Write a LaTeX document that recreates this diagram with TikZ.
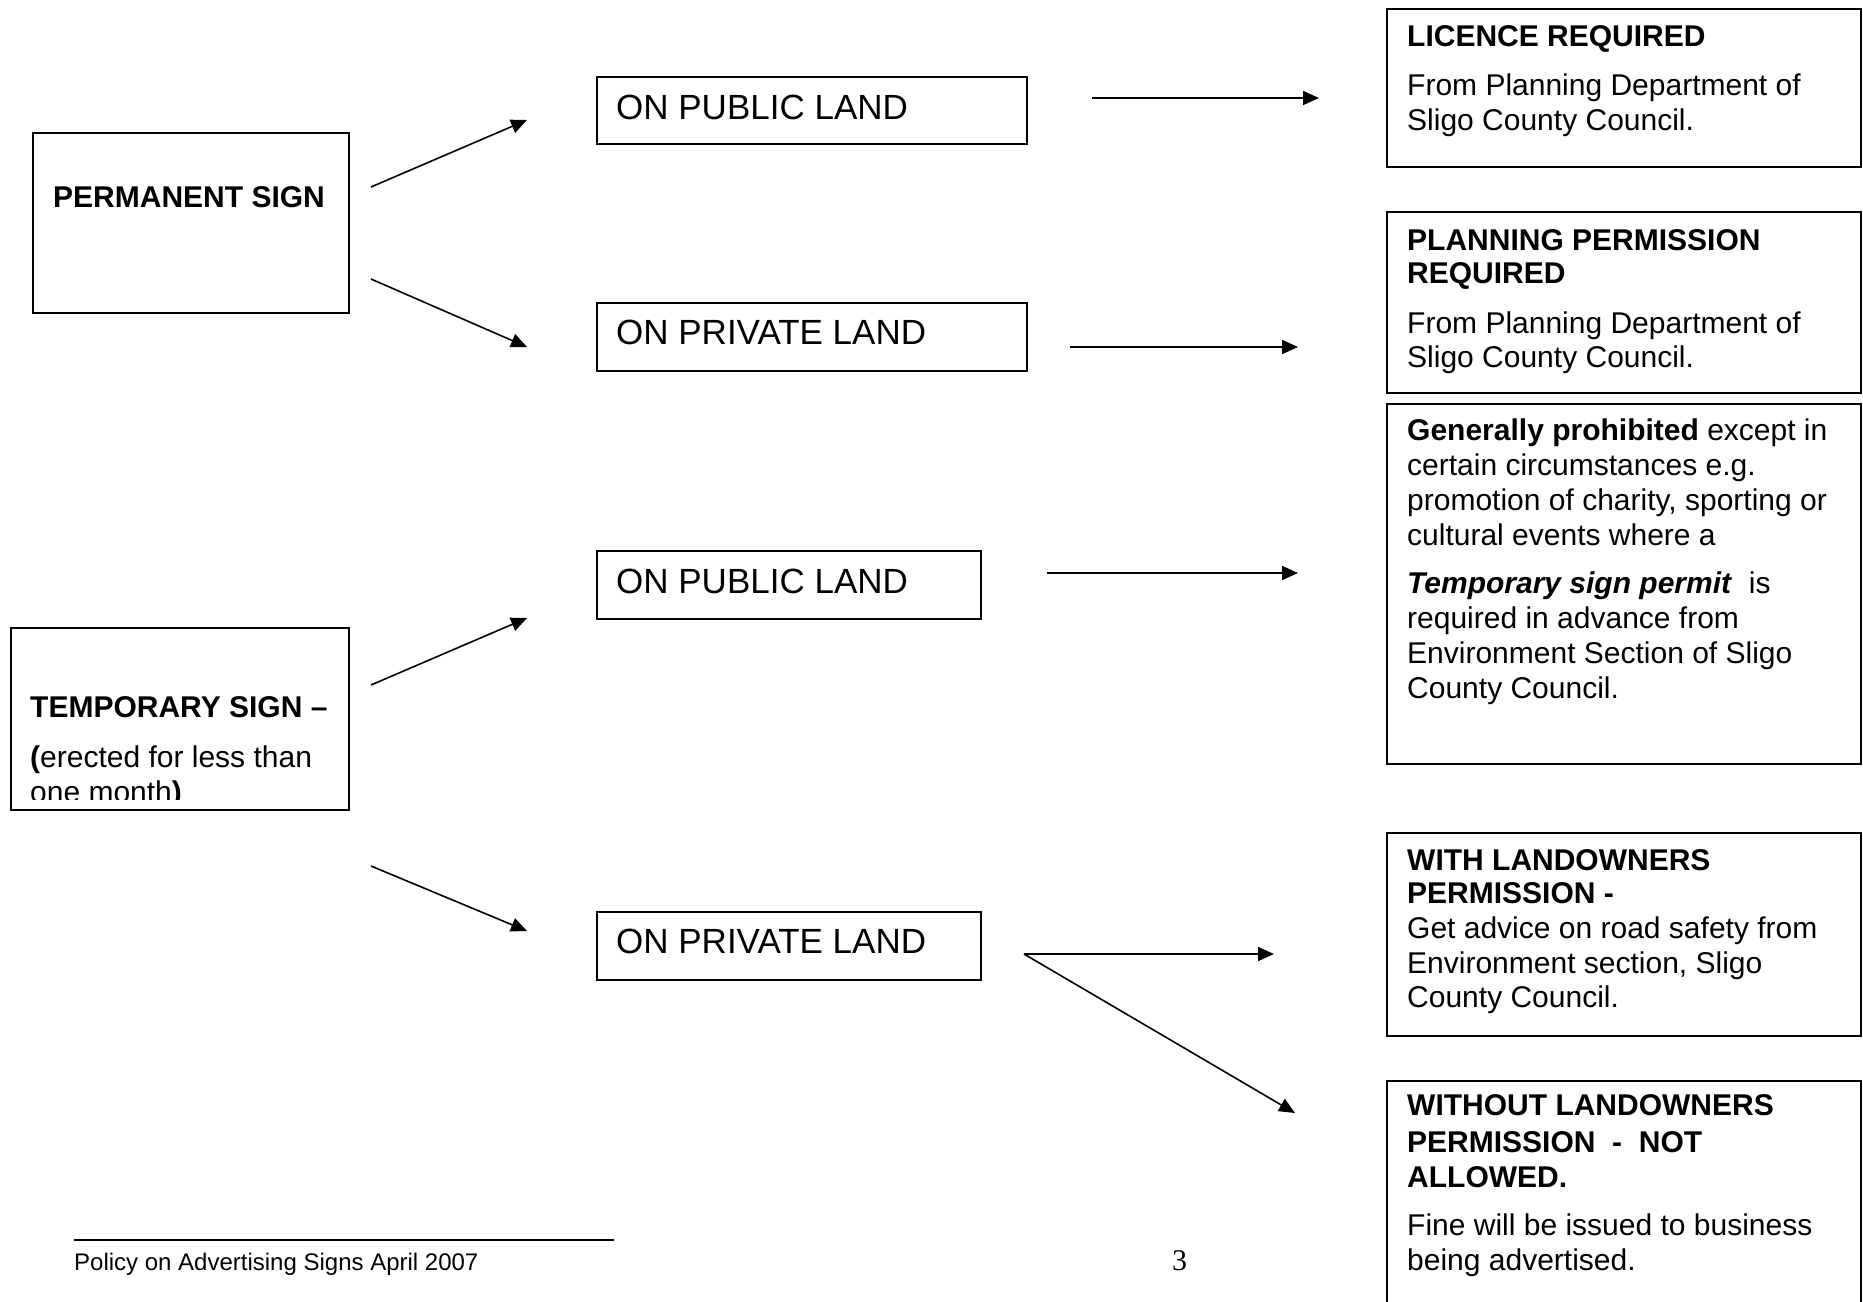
\documentclass[tikz,border=0pt]{standalone}
\usepackage{fontspec}
\setmainfont{Liberation Sans}
\newfontfamily\serifft{Liberation Serif}
\usetikzlibrary{arrows.meta}
\tikzset{
  box/.style={draw, line width=1.6pt, inner sep=0pt, anchor=north west},
  txt/.style={anchor=base west, inner sep=0pt, font=\fontsize{30}{34.5}\selectfont},
  big/.style={anchor=base west, inner sep=0pt, font=\fontsize{35}{40}\selectfont},
  conn/.style={line width=1.6pt, -{Triangle[length=16pt,width=14pt]}},
}
\begin{document}
\begin{tikzpicture}[x=1pt,y=-1pt]
\useasboundingbox (0,0) rectangle (1863,1301);
\fill[white] (0,0) rectangle (1863,1301);
\begin{scope}
\clip (0,0) rectangle (1863,1301);

% left boxes
\node[box, minimum width=316pt, minimum height=180pt] (perm) at (32,132) {};
\node[txt, font=\fontsize{30}{34.5}\selectfont\bfseries] (permt) at (53,207) {PERMANENT SIGN};

\node[box, minimum width=338pt, minimum height=182pt] (temp) at (10,627) {};
\node[txt, font=\fontsize{30}{34.5}\selectfont\bfseries] (tempt1) at (30,717) {TEMPORARY SIGN –};
\begin{scope}
\clip (10,627) rectangle (348,799);
\node[txt] (tempt2) at (30,767) {\textbf{(}erected for less than};
\node[txt] (tempt3) at (30,802) {one month\textbf{)}};
\end{scope}

% middle boxes
\node[box, minimum width=430pt, minimum height=67pt] (pub1) at (596,76) {};
\node[big] (pub1t) at (616,119) {ON PUBLIC LAND};
\node[box, minimum width=430pt, minimum height=68pt] (priv1) at (596,302) {};
\node[big] (priv1t) at (616,344) {ON PRIVATE LAND};
\node[box, minimum width=384pt, minimum height=68pt] (pub2) at (596,550) {};
\node[big] (pub2t) at (616,593) {ON PUBLIC LAND};
\node[box, minimum width=384pt, minimum height=68pt] (priv2) at (596,911) {};
\node[big] (priv2t) at (616,953) {ON PRIVATE LAND};

% right boxes
\node[box, minimum width=474pt, minimum height=158pt] (lic) at (1386,8) {};
\node[txt, font=\fontsize{30}{34.5}\selectfont\bfseries] (lic1) at (1407,46) {LICENCE REQUIRED};
\node[txt] (lic2) at (1407,95) {From Planning Department of};
\node[txt] (lic3) at (1407,130) {Sligo County Council.};

\node[box, minimum width=474pt, minimum height=181pt] (plan) at (1386,211) {};
\node[txt, font=\fontsize{30}{34.5}\selectfont\bfseries] (plan1) at (1407,250) {PLANNING PERMISSION};
\node[txt, font=\fontsize{30}{34.5}\selectfont\bfseries] (plan2) at (1407,283) {REQUIRED};
\node[txt] (plan3) at (1407,333) {From Planning Department of};
\node[txt] (plan4) at (1407,367) {Sligo County Council.};

\node[box, minimum width=474pt, minimum height=360pt] (gen) at (1386,403) {};
\node[txt] (gen1) at (1407,440) {\textbf{Generally prohibited} except in};
\node[txt] (gen2) at (1407,475) {certain circumstances e.g.};
\node[txt] (gen3) at (1407,510) {promotion of charity, sporting or};
\node[txt] (gen4) at (1407,545) {cultural events where a};
\node[txt] (gen5) at (1407,593) {\textbf{\textit{Temporary sign permit}}\ \ is};
\node[txt] (gen6) at (1407,628) {required in advance from};
\node[txt] (gen7) at (1407,663) {Environment Section of Sligo};
\node[txt] (gen8) at (1407,698) {County Council.};

\node[box, minimum width=474pt, minimum height=203pt] (with) at (1386,832) {};
\node[txt, font=\fontsize{30}{34.5}\selectfont\bfseries] (with1) at (1407,870) {WITH LANDOWNERS};
\node[txt, font=\fontsize{30}{34.5}\selectfont\bfseries] (with2) at (1407,903) {PERMISSION -};
\node[txt] (with3) at (1407,938) {Get advice on road safety from};
\node[txt] (with4) at (1407,973) {Environment section, Sligo};
\node[txt] (with5) at (1407,1007) {County Council.};

\node[box, minimum width=474pt, minimum height=260pt] (without) at (1386,1080) {};
\node[txt, font=\fontsize{30}{34.5}\selectfont\bfseries] (wo1) at (1407,1115) {WITHOUT LANDOWNERS};
\node[txt, font=\fontsize{30}{34.5}\selectfont\bfseries] (wo2) at (1407,1152) {PERMISSION\ \ -\ \ NOT};
\node[txt, font=\fontsize{30}{34.5}\selectfont\bfseries] (wo3) at (1407,1187) {ALLOWED.};
\node[txt] (wo4) at (1407,1235) {Fine will be issued to business};
\node[txt] (wo5) at (1407,1270) {being advertised.};

% arrow end points
\coordinate (a1s) at (371,187); \coordinate (a1e) at (527,120);
\coordinate (a2s) at (371,279); \coordinate (a2e) at (527,347);
\coordinate (a3s) at (1092,98); \coordinate (a3e) at (1319,98);
\coordinate (a4s) at (1070,347); \coordinate (a4e) at (1298,347);
\coordinate (a5s) at (1047,573); \coordinate (a5e) at (1298,573);
\coordinate (a6s) at (371,685); \coordinate (a6e) at (527,618);
\coordinate (a7s) at (371,866); \coordinate (a7e) at (527,931);
\coordinate (a8s) at (1024,954); \coordinate (a8e) at (1274,954);
\coordinate (a9e) at (1295,1113);

\draw[conn] (a1s) -- (a1e);
\draw[conn] (a2s) -- (a2e);
\draw[conn] (a3s) -- (a3e);
\draw[conn] (a4s) -- (a4e);
\draw[conn] (a5s) -- (a5e);
\draw[conn] (a6s) -- (a6e);
\draw[conn] (a7s) -- (a7e);
\draw[conn] (a8s) -- (a8e);
\draw[conn] (a8s) -- (a9e);

% footer
\draw[line width=1.4pt] (74,1240) -- (614,1240);
\node[anchor=base west, inner sep=0pt, font=\fontsize{24}{28}\selectfont] (foot) at (74,1270) {Policy on Advertising Signs April 2007};
\node[anchor=base west, inner sep=0pt, font=\serifft\fontsize{30}{34}\selectfont] (pagenum) at (1172,1270) {3};
\end{scope}
\end{tikzpicture}
\end{document}
